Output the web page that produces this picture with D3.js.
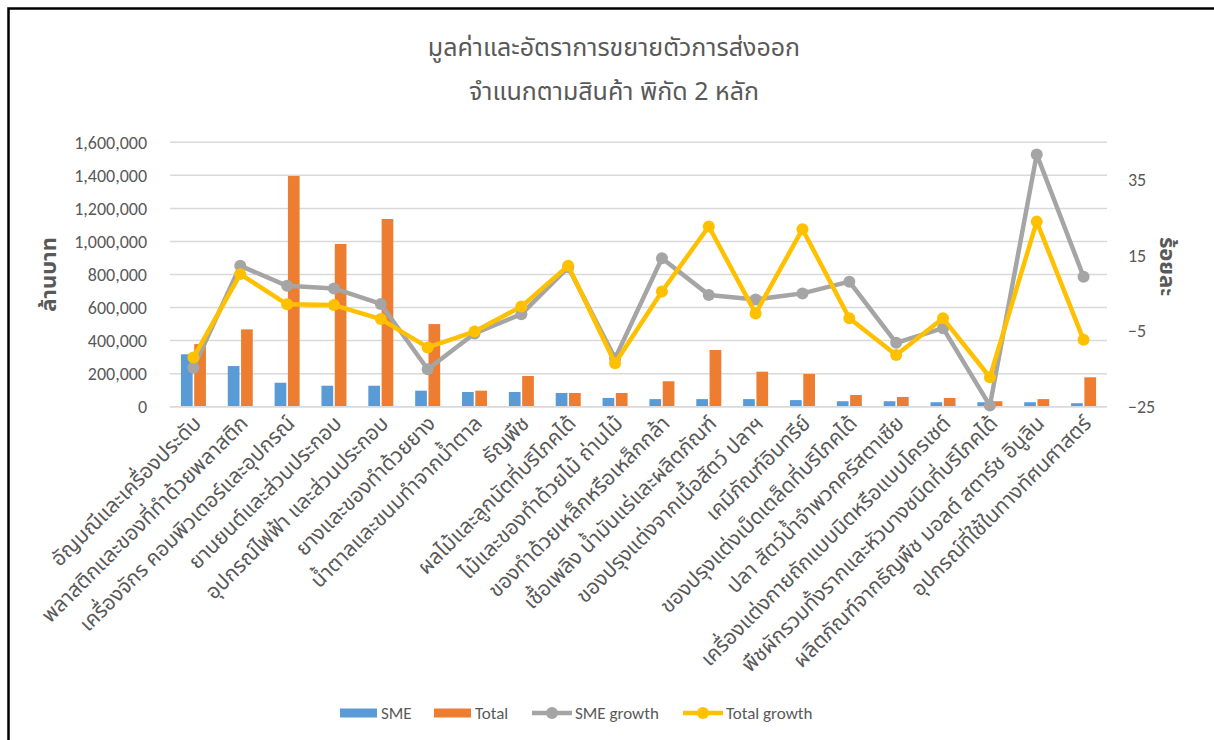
<!DOCTYPE html>
<html>
<head>
<meta charset="utf-8">
<script src="https://cdn.jsdelivr.net/npm/d3@7"></script>
<style>
  body { margin: 0; background: #fff; }
  text { font-family: "Noto Sans Thai", "Leelawadee UI", Tahoma, "Noto Sans", sans-serif; fill: #595959; }
</style>
</head>
<body>
<svg id="chart"></svg>
<script>
// product categories (HS 2 digit)
const categories = [
  'อัญมณีและเครื่องประดับ',
  'พลาสติกและของที่ทำด้วยพลาสติก',
  'เครื่องจักร คอมพิวเตอร์และอุปกรณ์',
  'ยานยนต์และส่วนประกอบ',
  'อุปกรณ์ไฟฟ้า และส่วนประกอบ',
  'ยางและของทำด้วยยาง',
  'น้ำตาลและขนมทำจากน้ำตาล',
  'ธัญพืช',
  'ผลไม้และลูกนัตที่บริโภคได้',
  'ไม้และของทำด้วยไม้ ถ่านไม้',
  'ของทำด้วยเหล็กหรือเหล็กกล้า',
  'เชื้อเพลิง น้ำมันแร่และผลิตภัณฑ์',
  'ของปรุงแต่งจากเนื้อสัตว์ ปลาฯ',
  'เคมีภัณฑ์อินทรีย์',
  'ของปรุงแต่งเบ็ดเตล็ดที่บริโภคได้',
  'ปลา สัตว์น้ำจำพวกครัสตาเซีย',
  'เครื่องแต่งกายถักแบบนิตหรือแบบโครเชต์',
  'พืชผักรวมทั้งรากและหัวบางชนิดที่บริโภคได้',
  'ผลิตภัณฑ์จากธัญพืช มอลต์ สตาร์ช อินูลิน',
  'อุปกรณ์ที่ใช้ในทางทัศนศาสตร์'
]

// million baht
const smeValue = [317000, 246000, 145000, 127000, 127000, 97000, 89000, 89000, 83000, 53000,
  46000, 46000, 46000, 40000, 33000, 33000, 27000, 27000, 27000, 21000]
const totalValue = [379000, 468000, 1396000, 985000, 1136000, 500000, 97000, 186000, 83000, 83000,
  154000, 343000, 212000, 198000, 71000, 59000, 53000, 33000, 46000, 178000]

// percent
const smeGrowth = [-14.7, 12.3, 7.0, 6.3, 2.2, -15.1, -5.6, -0.5, 11.9, -12.2,
  14.3, 4.6, 3.4, 5.0, 8.1, -8.1, -4.2, -24.7, 41.8, 9.4]
const totalGrowth = [-12.0, 10.1, 2.1, 1.9, -1.8, -9.3, -5.1, 1.5, 12.3, -13.5,
  5.5, 22.7, -0.3, 22.0, -1.6, -11.3, -1.6, -17.2, 24.0, -7.3]

const leftTicks = [0, 200000, 400000, 600000, 800000, 1000000, 1200000, 1400000, 1600000]
const rightTicks = [-25, -5, 15, 35]

const W = 1214, H = 740
const margin = { left: 170, right: 107, top: 142.3, bottom: 333.3 }
const plotRight = W - margin.right
const plotBottom = H - margin.bottom
const numFont = 'Calibri, Carlito, Lato, "Open Sans", sans-serif'

const svg = d3.select('#chart').attr('width', W).attr('height', H)

// frame
svg.append('rect')
  .attr('x', 8.5).attr('y', 8.5)
  .attr('width', W).attr('height', H)
  .attr('fill', 'none').attr('stroke', '#000').attr('stroke-width', 2.5)

// title
const title = svg.append('text')
  .attr('text-anchor', 'middle')
  .style('font-size', '25px')
title.append('tspan').attr('x', 614).attr('y', 56).text('มูลค่าและอัตราการขยายตัวการส่งออก')
title.append('tspan').attr('x', 614).attr('y', 100).text('จำแนกตามสินค้า พิกัด 2 หลัก')

// scales
const x = d3.scaleBand().domain(categories).range([margin.left, plotRight])
const step = x.step()
const xSub = d3.scaleBand().domain(['sme', 'total']).range([-12.5, 12.5]).paddingInner(0.12)
const yLeft = d3.scaleLinear().domain([0, 1600000]).range([plotBottom, margin.top])
const yRight = d3.scaleLinear().domain([-25, 45]).range([plotBottom, margin.top])
const cx = c => x(c) + step / 2

// gridlines
svg.append('g')
  .selectAll('line')
  .data(leftTicks)
  .join('line')
  .attr('x1', margin.left).attr('x2', plotRight)
  .attr('y1', d => yLeft(d)).attr('y2', d => yLeft(d))
  .attr('stroke', '#d9d9d9').attr('stroke-width', 1.5)

// left axis
const axisL = svg.append('g')
  .attr('transform', `translate(${margin.left - 20},0)`)
  .call(d3.axisLeft(yLeft).tickValues(leftTicks).tickSize(0).tickFormat(d3.format(',')))
axisL.select('.domain').remove()
axisL.selectAll('text').style('font-size', '18px').style('font-family', numFont).attr('fill', '#595959')

// right axis
const axisR = svg.append('g')
  .attr('transform', `translate(${plotRight + 18},0)`)
  .call(d3.axisRight(yRight).tickValues(rightTicks).tickSize(0))
axisR.select('.domain').remove()
axisR.selectAll('text').style('font-size', '18px').style('font-family', numFont).attr('fill', '#595959')

// axis titles
svg.append('text')
  .attr('transform', `translate(56,${(margin.top + plotBottom) / 2}) rotate(-90)`)
  .attr('text-anchor', 'middle')
  .style('font-size', '22px').style('font-weight', 'bold')
  .text('ล้านบาท')
svg.append('text')
  .attr('transform', `translate(1160,${(margin.top + plotBottom) / 2 - 8}) rotate(90)`)
  .attr('text-anchor', 'middle')
  .style('font-size', '22px').style('font-weight', 'bold')
  .text('ร้อยละ')

// bars
svg.append('g')
  .selectAll('rect')
  .data(categories)
  .join('rect')
  .attr('x', c => cx(c) + xSub('sme'))
  .attr('width', xSub.bandwidth())
  .attr('y', (c, i) => yLeft(smeValue[i]))
  .attr('height', (c, i) => plotBottom - yLeft(smeValue[i]))
  .attr('fill', '#5b9bd5')
svg.append('g')
  .selectAll('rect')
  .data(categories)
  .join('rect')
  .attr('x', c => cx(c) + xSub('total'))
  .attr('width', xSub.bandwidth())
  .attr('y', (c, i) => yLeft(totalValue[i]))
  .attr('height', (c, i) => plotBottom - yLeft(totalValue[i]))
  .attr('fill', '#ed7d31')

// baseline
svg.append('line')
  .attr('x1', margin.left).attr('x2', plotRight)
  .attr('y1', plotBottom).attr('y2', plotBottom)
  .attr('stroke', '#d9d9d9').attr('stroke-width', 1.5)

// growth lines
const lineGen = d3.line().x(d => cx(d.c)).y(d => yRight(d.v))
const drawLine = (vals, color) => {
  const pts = categories.map((c, i) => ({ c, v: vals[i] }))
  svg.append('path')
    .attr('d', lineGen(pts))
    .attr('fill', 'none').attr('stroke', color)
    .attr('stroke-width', 4.5).attr('stroke-linejoin', 'round')
  svg.append('g')
    .selectAll('circle')
    .data(pts)
    .join('circle')
    .attr('cx', d => cx(d.c)).attr('cy', d => yRight(d.v))
    .attr('r', 6).attr('fill', color)
}
drawLine(smeGrowth, '#a5a5a5')
drawLine(totalGrowth, '#ffc000')

// category labels
svg.append('g')
  .selectAll('text')
  .data(categories)
  .join('text')
  .attr('text-anchor', 'end')
  .attr('transform', c => `translate(${cx(c) + 9},${plotBottom + 18}) rotate(-45)`)
  .style('font-size', '21px')
  .text(c => c)

// legend
const legend = svg.append('g').attr('transform', 'translate(0,713)')
const legendItems = [
  { name: 'SME', color: '#5b9bd5', type: 'bar', x: 340 },
  { name: 'Total', color: '#ed7d31', type: 'bar', x: 434 },
  { name: 'SME growth', color: '#a5a5a5', type: 'line', x: 532 },
  { name: 'Total growth', color: '#ffc000', type: 'line', x: 683 }
]
legendItems.forEach(item => {
  const g = legend.append('g').attr('transform', `translate(${item.x},0)`)
  if (item.type === 'bar') {
    g.append('rect').attr('x', 0).attr('y', -4.5).attr('width', 37).attr('height', 9).attr('fill', item.color)
  } else {
    g.append('line').attr('x1', 0).attr('x2', 40).attr('y1', 0).attr('y2', 0)
      .attr('stroke', item.color).attr('stroke-width', 4.5)
    g.append('circle').attr('cx', 20).attr('cy', 0).attr('r', 6).attr('fill', item.color)
  }
  g.append('text')
    .attr('x', item.type === 'bar' ? 41 : 43).attr('y', 0).attr('dy', '0.35em')
    .style('font-size', '17px').style('font-family', numFont)
    .text(item.name)
})
</script>
</body>
</html>
